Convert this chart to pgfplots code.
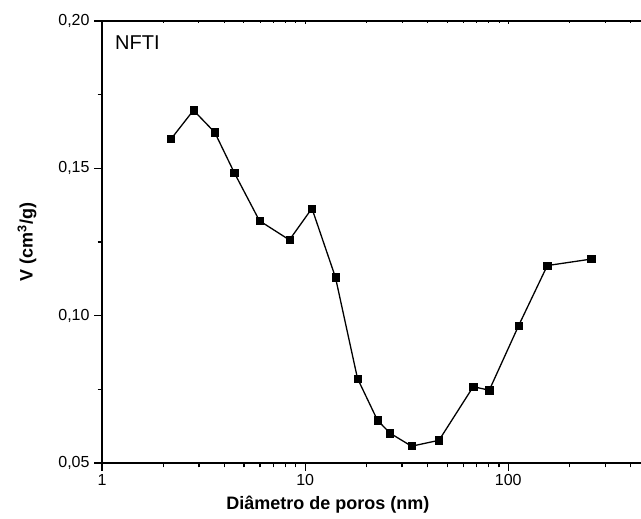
\documentclass[border=0pt]{standalone}
\usepackage{pgfplots}
\pgfplotsset{compat=1.18}
\usepackage{fontspec}
\setmainfont{Liberation Sans}
\begin{document}
\begin{tikzpicture}
\begin{axis}[
  scale only axis, width=539bp, height=442bp,
  xmode=log, xmin=1, xmax=450, ymin=0.05, ymax=0.20,
  axis x line*=bottom, axis y line*=left,
  axis line style={line width=1.5bp, -},
  tick align=outside,
  major tick length=8bp, minor tick length=4.5bp,
  every tick/.style={line width=1.2bp, black},
  xtick={1,10,100}, xticklabels={1,10,100},
  minor xtick={2,3,4,5,6,7,8,9,20,30,40,50,60,70,80,90,200,300,400},
  ytick={0.05,0.10,0.15,0.20},
  yticklabels={{0,05},{0,10},{0,15},{0,20}},
  minor ytick={0.075,0.125,0.175},
  tick label style={font=\fontsize{16bp}{19bp}\selectfont},
  yticklabel style={xshift=-1bp},
  xlabel={\textbf{Diâmetro de poros (nm)}},
  ylabel={\textbf{V (cm\textsuperscript{3}/g)}},
  label style={font=\fontsize{18bp}{21bp}\selectfont},
  xlabel style={at={(axis description cs:0.419,-0.1063)}, anchor=base},
  ylabel style={at={(axis description cs:-0.139,0.5)}, anchor=center},
  clip=false,
]
\coordinate (ll) at (rel axis cs:0,0);
\coordinate (ur) at (rel axis cs:1,1);
\addplot[black, line width=1.3bp, mark=square*, mark size=3.6bp,
  mark options={fill=black, draw=black, line width=0.6bp}] coordinates {
(2.19,0.1600) (2.82,0.1697) (3.59,0.1622) (4.48,0.1485) (5.96,0.1322)
(8.37,0.1257) (10.8,0.1364) (14.1,0.1130) (18.1,0.0787) (22.7,0.0645)
(26.2,0.0601) (33.4,0.0557) (45.6,0.0577) (67.2,0.0759) (80.6,0.0747)
(112.4,0.0966) (155.6,0.1170) (256,0.1192)
};
\node[anchor=base west, inner sep=0, xshift=13bp, yshift=-29bp,
  font=\fontsize{20bp}{23bp}\selectfont] at (rel axis cs:0,1) {NFTI};
\end{axis}
\begin{axis}[
  scale only axis, width=539bp, height=442bp,
  xmode=log, xmin=1, xmax=450, ymin=0.05, ymax=0.20,
  axis x line*=top, axis y line=none,
  axis line style={line width=1.5bp, -},
  tick align=inside,
  major tick length=3bp, minor tick length=2.5bp,
  every tick/.style={line width=1bp, black},
  xtick={1,10,100}, xticklabels={},
  minor xtick={2,3,4,5,6,7,8,9,20,30,40,50,60,70,80,90,200,300,400},
]
\addplot[draw=none] coordinates {(1,0.1)};
\end{axis}
\pgfresetboundingbox
\path[use as bounding box] ([shift={(-102bp,-56bp)}]ll) rectangle ([shift={(0bp,21bp)}]ur);
\end{tikzpicture}
\end{document}
